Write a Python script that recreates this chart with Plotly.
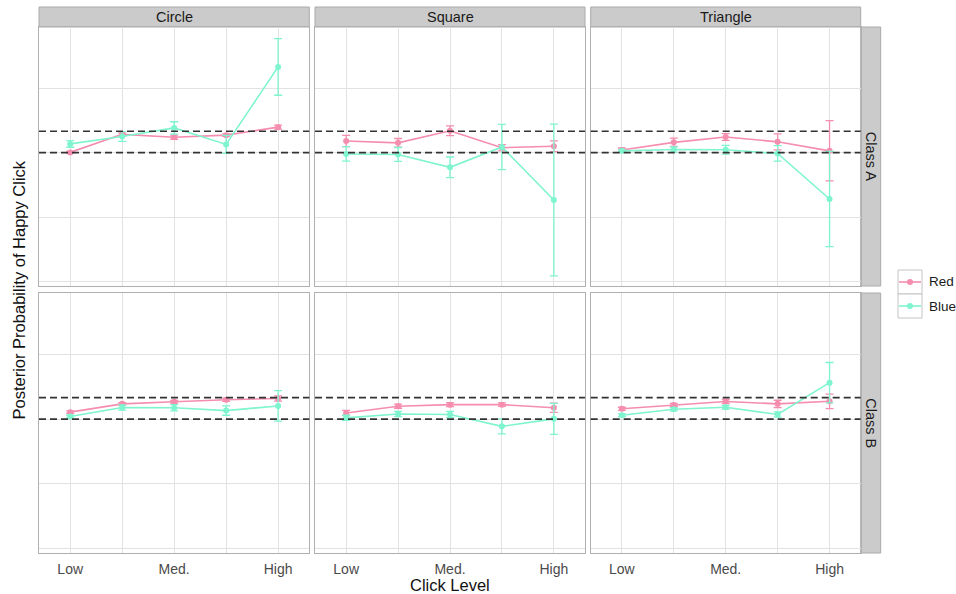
import plotly.graph_objects as go

# ---------------- data ----------------
SHAPES = ["Circle", "Square", "Triangle"]
CLASSES = ["Class A", "Class B"]
SERIES = ["Red", "Blue"]
CLICK_LEVEL = [1, 2, 3, 4, 5]
TICK_TEXT = ["Low", "", "Med.", "", "High"]
REF_LINES = [0.5, 0.5833]

# Class A
A_CIRCLE_RED = [0.501, 0.571, 0.560, 0.568, 0.599]
A_CIRCLE_RED_ERR = [0.004, 0.006, 0.008, 0.005, 0.008]
A_CIRCLE_BLUE = [0.534, 0.563, 0.596, 0.532, 0.833]
A_CIRCLE_BLUE_ERR = [0.013, 0.019, 0.024, 0.035, 0.110]
A_SQUARE_RED = [0.545, 0.538, 0.585, 0.519, 0.525]
A_SQUARE_RED_ERR = [0.022, 0.017, 0.019, 0.012, 0.021]
A_SQUARE_BLUE = [0.495, 0.493, 0.443, 0.522, 0.316]
A_SQUARE_BLUE_ERR = [0.028, 0.027, 0.040, 0.088, 0.295]
A_TRIANGLE_RED = [0.510, 0.540, 0.561, 0.542, 0.507]
A_TRIANGLE_RED_ERR = [0.008, 0.016, 0.013, 0.031, 0.117]
A_TRIANGLE_BLUE = [0.507, 0.512, 0.511, 0.497, 0.320]
A_TRIANGLE_BLUE_ERR = [0.004, 0.010, 0.017, 0.030, 0.185]

# Class B
B_CIRCLE_RED = [0.527, 0.559, 0.567, 0.575, 0.580]
B_CIRCLE_RED_ERR = [0.005, 0.005, 0.005, 0.006, 0.010]
B_CIRCLE_BLUE = [0.510, 0.545, 0.544, 0.533, 0.551]
B_CIRCLE_BLUE_ERR = [0.005, 0.010, 0.012, 0.018, 0.059]
B_SQUARE_RED = [0.524, 0.550, 0.556, 0.556, 0.544]
B_SQUARE_RED_ERR = [0.010, 0.008, 0.008, 0.007, 0.018]
B_SQUARE_BLUE = [0.505, 0.520, 0.518, 0.472, 0.501]
B_SQUARE_BLUE_ERR = [0.010, 0.010, 0.012, 0.029, 0.060]
B_TRIANGLE_RED = [0.540, 0.555, 0.568, 0.559, 0.569]
B_TRIANGLE_RED_ERR = [0.006, 0.006, 0.008, 0.014, 0.028]
B_TRIANGLE_BLUE = [0.515, 0.538, 0.546, 0.518, 0.641]
B_TRIANGLE_BLUE_ERR = [0.005, 0.006, 0.007, 0.010, 0.078]

PANELS = {
    ("Class A", "Circle"): {"Red": (A_CIRCLE_RED, A_CIRCLE_RED_ERR), "Blue": (A_CIRCLE_BLUE, A_CIRCLE_BLUE_ERR)},
    ("Class A", "Square"): {"Red": (A_SQUARE_RED, A_SQUARE_RED_ERR), "Blue": (A_SQUARE_BLUE, A_SQUARE_BLUE_ERR)},
    ("Class A", "Triangle"): {"Red": (A_TRIANGLE_RED, A_TRIANGLE_RED_ERR), "Blue": (A_TRIANGLE_BLUE, A_TRIANGLE_BLUE_ERR)},
    ("Class B", "Circle"): {"Red": (B_CIRCLE_RED, B_CIRCLE_RED_ERR), "Blue": (B_CIRCLE_BLUE, B_CIRCLE_BLUE_ERR)},
    ("Class B", "Square"): {"Red": (B_SQUARE_RED, B_SQUARE_RED_ERR), "Blue": (B_SQUARE_BLUE, B_SQUARE_BLUE_ERR)},
    ("Class B", "Triangle"): {"Red": (B_TRIANGLE_RED, B_TRIANGLE_RED_ERR), "Blue": (B_TRIANGLE_BLUE, B_TRIANGLE_BLUE_ERR)},
}

# ---------------- style ----------------
W, H = 956, 594
FONT = "Liberation Sans, Arial, sans-serif"
COLORS = {"Red": "#F58DAE", "Blue": "#7EF4CF"}
GRID = "#E2E2E2"
BORDER = "#B0B0B0"
STRIP_FILL = "#CBCBCB"
STRIP_LINE = "#ABABAB"

COL_PX = [(39, 309.3), (315, 585), (590.7, 860.7)]
ROW_PX = [(27, 286), (293, 553)]
RIGHT_STRIP_PX = (860.7, 880.7)
TOP_STRIP_PX = (7, 27)
LEGEND_KEY_X = (898, 922)
LEGEND_KEY_TOP = 270
LEGEND_KEY_H = 24


def fx(p):
    return p / W


def fy(p):
    return 1 - p / H


fig = go.Figure()
layout_axes = {}
shapes = []
annotations = []

for r, cls in enumerate(CLASSES):
    for c, shp in enumerate(SHAPES):
        n = r * 3 + c + 1
        xa = "x" if n == 1 else f"x{n}"
        ya = "y" if n == 1 else f"y{n}"
        for s in SERIES:
            vals, errs = PANELS[(cls, shp)][s]
            fig.add_trace(go.Scatter(
                x=CLICK_LEVEL, y=vals, xaxis=xa, yaxis=ya,
                mode="lines+markers", name=s, showlegend=False,
                line=dict(color=COLORS[s], width=1.6),
                marker=dict(color=COLORS[s], size=6),
                error_y=dict(type="data", array=errs, visible=True,
                             color=COLORS[s], thickness=1.3, width=4),
            ))
        x0, x1 = COL_PX[c]
        y0, y1 = ROW_PX[r]
        xkey = "xaxis" if n == 1 else f"xaxis{n}"
        ykey = "yaxis" if n == 1 else f"yaxis{n}"
        layout_axes[xkey] = dict(
            domain=[fx(x0), fx(x1)], anchor=ya, range=[0.4, 5.6],
            tickvals=CLICK_LEVEL, ticktext=TICK_TEXT, showticklabels=(r == 1),
            ticks="", showgrid=True, gridcolor=GRID, gridwidth=1,
            showline=True, mirror=True, linecolor=BORDER, linewidth=1.2,
            zeroline=False, automargin=False, ticklabelstandoff=3,
            tickfont=dict(family=FONT, size=14, color="#4A4A4A"),
        )
        layout_axes[ykey] = dict(
            domain=[fy(y1), fy(y0)], anchor=xa, range=[-0.018, 0.988],
            tickvals=[0, 0.25, 0.5, 0.75], showticklabels=False,
            ticks="", showgrid=True, gridcolor=GRID, gridwidth=1,
            showline=True, mirror=True, linecolor=BORDER, linewidth=1.2,
            zeroline=False, automargin=False,
        )
        for ref in REF_LINES:
            shapes.append(dict(
                type="line", xref=f"{xa} domain", yref=ya, x0=0, x1=1, y0=ref, y1=ref,
                line=dict(color="#333333", width=1.6, dash="7px,4px"), layer="above",
            ))

# top strips
for c, shp in enumerate(SHAPES):
    x0, x1 = COL_PX[c]
    shapes.append(dict(type="rect", xref="paper", yref="paper",
                       x0=fx(x0), x1=fx(x1), y0=fy(TOP_STRIP_PX[1]), y1=fy(TOP_STRIP_PX[0]),
                       fillcolor=STRIP_FILL, line=dict(color=STRIP_LINE, width=1), layer="below"))
    annotations.append(dict(xref="paper", yref="paper", x=fx((x0 + x1) / 2),
                            y=fy(sum(TOP_STRIP_PX) / 2), text=shp, showarrow=False,
                            xanchor="center", yanchor="middle",
                            font=dict(family=FONT, size=14.5, color="#1A1A1A")))
# right strips
for r, cls in enumerate(CLASSES):
    y0, y1 = ROW_PX[r]
    shapes.append(dict(type="rect", xref="paper", yref="paper",
                       x0=fx(RIGHT_STRIP_PX[0]), x1=fx(RIGHT_STRIP_PX[1]), y0=fy(y1), y1=fy(y0),
                       fillcolor=STRIP_FILL, line=dict(color=STRIP_LINE, width=1), layer="below"))
    annotations.append(dict(xref="paper", yref="paper", x=fx(sum(RIGHT_STRIP_PX) / 2),
                            y=fy((y0 + y1) / 2), text=cls, showarrow=False, textangle=90,
                            xanchor="center", yanchor="middle",
                            font=dict(family=FONT, size=14.5, color="#1A1A1A")))

# legend (key boxes, glyphs and labels)
kx0, kx1 = LEGEND_KEY_X
kxc = (kx0 + kx1) / 2
for i, s in enumerate(SERIES):
    top = LEGEND_KEY_TOP + LEGEND_KEY_H * i
    mid = top + LEGEND_KEY_H / 2
    shapes.append(dict(type="rect", xref="paper", yref="paper",
                       x0=fx(kx0), x1=fx(kx1), y0=fy(top + LEGEND_KEY_H), y1=fy(top),
                       fillcolor="white", line=dict(color="#C4C4C4", width=1), layer="below"))
    shapes.append(dict(type="line", xref="paper", yref="paper",
                       x0=fx(kx0 + 1), x1=fx(kx1 - 1), y0=fy(mid), y1=fy(mid),
                       line=dict(color=COLORS[s], width=1.6), layer="above"))
    shapes.append(dict(type="circle", xref="paper", yref="paper",
                       x0=fx(kxc - 3), x1=fx(kxc + 3), y0=fy(mid + 3), y1=fy(mid - 3),
                       fillcolor=COLORS[s], line=dict(color=COLORS[s], width=0), layer="above"))
    annotations.append(dict(xref="paper", yref="paper", x=fx(kx1 + 5), y=fy(mid), text=s,
                            showarrow=False, xanchor="left", yanchor="middle",
                            font=dict(family=FONT, size=13.5, color="#1A1A1A")))

# axis titles
annotations.append(dict(xref="paper", yref="paper", x=fx(450), y=fy(585), text="Click Level",
                        showarrow=False, xanchor="center", yanchor="middle",
                        font=dict(family=FONT, size=16.5, color="#111111")))
annotations.append(dict(xref="paper", yref="paper", x=fx(18.5), y=fy(290),
                        text="Posterior Probability of Happy Click", textangle=-90,
                        showarrow=False, xanchor="center", yanchor="middle",
                        font=dict(family=FONT, size=16.5, color="#111111")))

fig.update_layout(
    width=W, height=H,
    margin=dict(l=0, r=0, t=0, b=0, autoexpand=False),
    paper_bgcolor="white", plot_bgcolor="white",
    font=dict(family=FONT, size=14, color="#222222"),
    shapes=shapes, annotations=annotations, showlegend=False,
    **layout_axes,
)

fig.write_html("out.html", config={"displayModeBar": False},
               post_script="document.body.style.margin='0px';document.body.style.overflow='hidden';")
